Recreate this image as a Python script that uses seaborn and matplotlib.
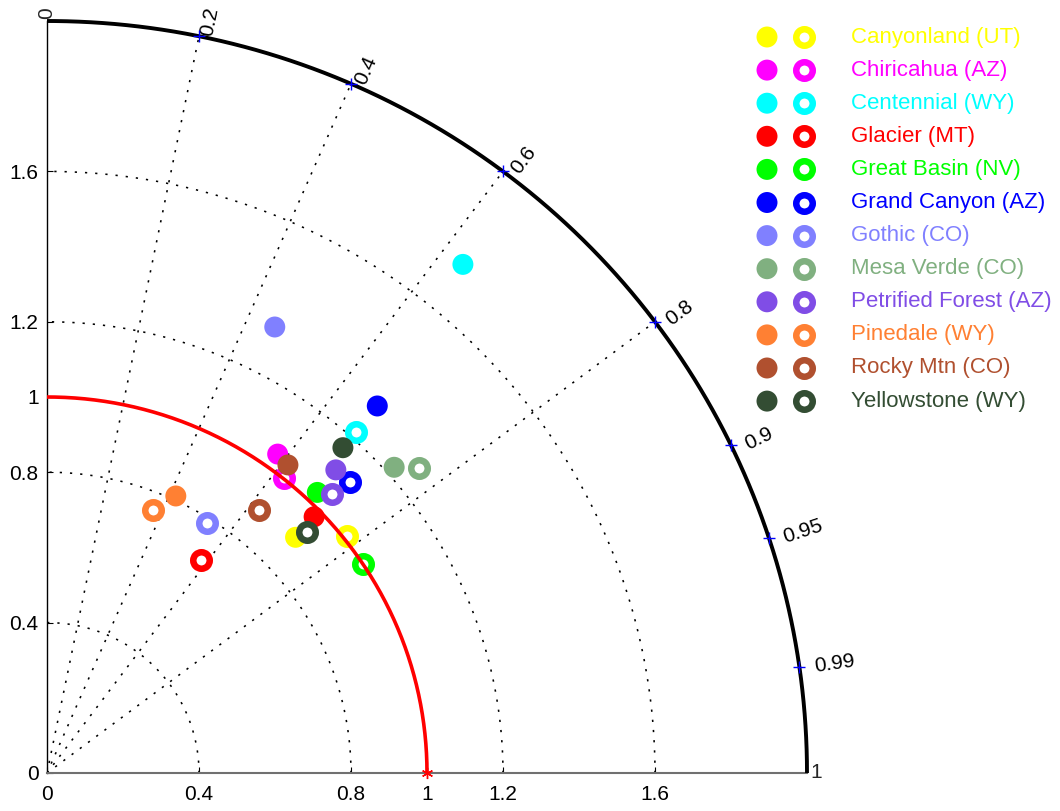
import numpy as np
import pandas as pd
import matplotlib
matplotlib.use("Agg")
import matplotlib.pyplot as plt
import seaborn as sns

# ---- data -------------------------------------------------------------
sites = ["Canyonland (UT)", "Chiricahua (AZ)", "Centennial (WY)", "Glacier (MT)",
         "Great Basin (NV)", "Grand Canyon (AZ)", "Gothic (CO)", "Mesa Verde (CO)",
         "Petrified Forest (AZ)", "Pinedale (WY)", "Rocky Mtn (CO)", "Yellowstone (WY)"]
site_colors = ["#FFFF00", "#FF00FF", "#00FFFF", "#FF0000", "#00FF00", "#0000FF",
               "#8080FF", "#80B080", "#804DE6", "#FF8033", "#B0502F", "#334D33"]

# normalised standard deviation and correlation (filled markers)
std_a = [0.906, 1.043, 1.740, 0.979, 1.031, 1.307, 1.329, 1.223, 1.108, 0.811, 1.036, 1.164]
corr_a = [0.722, 0.582, 0.629, 0.718, 0.690, 0.665, 0.451, 0.747, 0.686, 0.418, 0.612, 0.669]
# normalised standard deviation and correlation (open markers)
std_b = [1.010, 1.002, 1.218, 0.697, 1.001, 1.112, 0.786, 1.273, 1.055, 0.753, 0.895, 0.938]
corr_b = [0.781, 0.622, 0.667, 0.582, 0.832, 0.717, 0.535, 0.770, 0.711, 0.371, 0.624, 0.729]

std_ticks = [0, 0.4, 0.8, 1, 1.2, 1.6]
std_tick_labels = ["0", "0.4", "0.8", "1", "1.2", "1.6"]
std_grid = [0.4, 0.8, 1.2, 1.6]
corr_grid = [0.2, 0.4, 0.6, 0.8]
corr_ticks = [0.2, 0.4, 0.6, 0.8, 0.9, 0.95, 0.99]
corr_tick_labels = ["0.2", "0.4", "0.6", "0.8", "0.9", "0.95", "0.99"]
std_max = 2.0
std_ref = 1.0

# ---- style ------------------------------------------------------------
sns.set_theme(style="white")
plt.rcParams["font.family"] = ["Liberation Sans", "DejaVu Sans"]

W, H = 1060, 811
fig = plt.figure(figsize=(W / 100, H / 100), dpi=100)
ax = fig.add_axes([47 / W, 38 / H, 760 / W, 752 / H])
ax.set_xlim(0, std_max)
ax.set_ylim(0, std_max)
ax.patch.set_alpha(0)


def to_xy(std, corr):
    std = np.asarray(std, float)
    corr = np.asarray(corr, float)
    return std * corr, std * np.sqrt(1 - corr ** 2)


dotted = dict(color="black", lw=1.15, linestyle=(0, (1.4, 5.0)), zorder=1)
quarter = np.linspace(0, np.pi / 2, 300)

# standard deviation arcs
for s in std_grid:
    ax.plot(s * np.cos(quarter), s * np.sin(quarter), **dotted)
# correlation rays
for r in corr_grid:
    t = np.arccos(r)
    ax.plot([0, std_max * np.cos(t)], [0, std_max * np.sin(t)], **dotted)

# outer boundary
ax.plot(std_max * np.cos(quarter), std_max * np.sin(quarter), color="black",
        lw=2.8, zorder=6, clip_on=False, solid_capstyle="butt")

# correlation tick marks and labels
for r, lab in zip(corr_ticks, corr_tick_labels):
    t = np.arccos(r)
    px, py = std_max * np.cos(t), std_max * np.sin(t)
    ax.plot(px, py, marker="+", color="blue", ms=8, mew=1.0, zorder=7,
            clip_on=False)
    ax.text(px + 0.015 + 0.025 * r, py, lab, rotation=np.degrees(t),
            rotation_mode="anchor", ha="left", va="center", fontsize=15,
            color="black", clip_on=False)
ax.text(0, 2.006, "0", rotation=90, rotation_mode="anchor", ha="left",
        va="center", fontsize=15, clip_on=False)
ax.text(2.008, 0, "1", rotation=0, rotation_mode="anchor", ha="left",
        va="center", fontsize=15, clip_on=False)

# site markers, filled then open for each site
xa, ya = to_xy(std_a, corr_a)
xb, yb = to_xy(std_b, corr_b)
FILLED_S, RING_S, RING_LW = 228, 141, 4.7
z = 3
for i, c in enumerate(site_colors):
    sns.scatterplot(x=[xa[i]], y=[ya[i]], ax=ax, color=c, s=FILLED_S, linewidth=0,
                    edgecolor="none", zorder=z, legend=False)
    z += 0.01
    sns.scatterplot(x=[xb[i]], y=[yb[i]], ax=ax, s=RING_S, legend=False, zorder=z)
    ring = ax.collections[-1]
    ring.set_facecolor("white")
    ring.set_edgecolor(c)
    ring.set_linewidth(RING_LW)
    z += 0.01

# reference arc and reference point
ref = pd.DataFrame({"x": std_ref * np.cos(quarter), "y": std_ref * np.sin(quarter)})
sns.lineplot(data=ref, x="x", y="y", sort=False, ax=ax, color="red", lw=2.6,
             zorder=5, estimator=None)
ax.plot(std_ref, 0, marker=(6, 2, 0), color="red", ms=8, mew=1.0, zorder=8,
        clip_on=False)

# axes
for side in ("top", "right"):
    ax.spines[side].set_visible(False)
ax.spines["left"].set_color("black")
ax.spines["left"].set_linewidth(1.0)
ax.spines["bottom"].set_color("#707070")
ax.spines["bottom"].set_linewidth(1.5)
ax.set_xticks(std_ticks)
ax.set_xticklabels(std_tick_labels)
ax.set_yticks(std_ticks)
ax.set_yticklabels(std_tick_labels)
ax.tick_params(axis="both", direction="in", length=4, width=0.8, colors="black",
               labelsize=15, left=True, bottom=True)
ax.tick_params(axis="x", pad=9)
ax.tick_params(axis="y", pad=6)
ax.set_xlabel("")
ax.set_ylabel("")
ax.grid(False)

# legend
lax = fig.add_axes([0, 0, 1, 1])
lax.set_xlim(0, W)
lax.set_ylim(H, 0)
lax.axis("off")
lax.patch.set_alpha(0)
row_y = 37 + 33.1 * np.arange(len(sites))
for i, (name, c) in enumerate(zip(sites, site_colors)):
    sns.scatterplot(x=[767], y=[row_y[i]], ax=lax, color=c, s=FILLED_S, linewidth=0,
                    edgecolor="none", legend=False)
    sns.scatterplot(x=[804], y=[row_y[i]], ax=lax, s=RING_S, legend=False)
    ring = lax.collections[-1]
    ring.set_facecolor("white")
    ring.set_edgecolor(c)
    ring.set_linewidth(RING_LW)
    lax.text(851, row_y[i], name, color=c, fontsize=16, ha="left", va="center")
lax.set_xlabel("")
lax.set_ylabel("")

fig.savefig("out.png", dpi=100)
